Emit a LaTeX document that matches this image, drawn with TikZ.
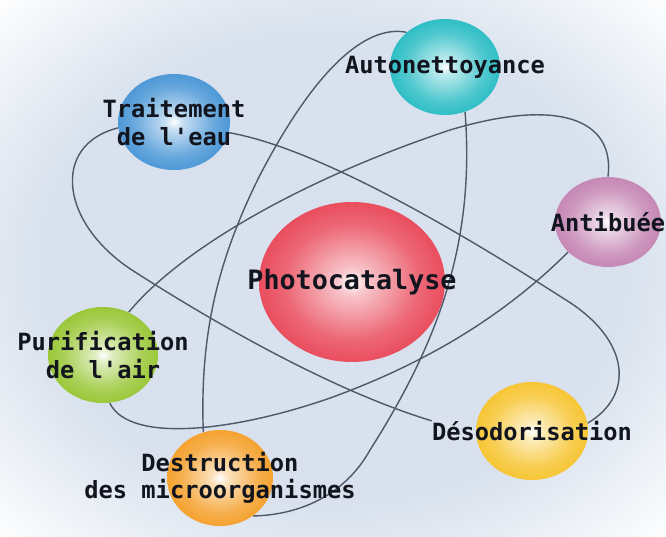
\documentclass[tikz,border=0pt]{standalone}
\usepackage{fontspec}
\setmonofont{DejaVu Sans Mono}
\usetikzlibrary{shapes.geometric}

\definecolor{bgblue}{RGB}{216,225,237}
\definecolor{orbitgray}{RGB}{78,88,104}
\definecolor{inkdark}{RGB}{18,20,30}
\definecolor{redball}{RGB}{232,66,84}
\definecolor{blueball}{RGB}{66,146,212}
\definecolor{tealball}{RGB}{34,186,194}
\definecolor{pinkball}{RGB}{194,128,176}
\definecolor{greenball}{RGB}{148,196,44}
\definecolor{orangeball}{RGB}{244,156,34}
\definecolor{yellowball}{RGB}{246,194,40}
\colorlet{ballc}{red}

\pgfdeclareradialshading[ballc]{glowball}{\pgfpointorigin}{%
	color(0bp)=(white); color(4bp)=(ballc!30!white); color(18bp)=(ballc!80!white);
	color(28bp)=(ballc); color(50bp)=(ballc)}
\pgfdeclareradialshading{bgglow}{\pgfpointorigin}{%
	color(0bp)=(bgblue); color(22bp)=(bgblue); color(36bp)=(white); color(50bp)=(white)}

\pgfdeclarelayer{back}
\pgfsetlayers{back,main}

\tikzset{
	glowcolor/.code={\colorlet{ballc}{#1}},
	ball/.style={ellipse, shading=glowball, inner sep=0pt},
	topic/.style={font=\ttfamily\bfseries\fontsize{13.5}{15.5}\selectfont, text=inkdark, align=center, inner sep=0pt},
	orbit/.style={draw=orbitgray, line width=0.8pt}
}

\begin{document}
\begin{tikzpicture}[x=0.02cm,y=-0.02cm]
	\useasboundingbox (0,0) rectangle (666,537);
	\node[ball, glowcolor=redball, minimum width=3.72cm, minimum height=3.2cm] (photo) at (352,282) {};
	\node[ball, glowcolor=blueball, minimum width=2.24cm, minimum height=1.92cm] (eau) at (174,122) {};
	\node[ball, glowcolor=tealball, minimum width=2.2cm, minimum height=1.92cm] (auto) at (445,67) {};
	\node[ball, glowcolor=pinkball, minimum width=2.12cm, minimum height=1.8cm] (antibuee) at (608,222) {};
	\node[ball, glowcolor=greenball, minimum width=2.2cm, minimum height=1.92cm] (air) at (103,355) {};
	\node[ball, glowcolor=orangeball, minimum width=2.12cm, minimum height=1.92cm] (micro) at (220,478) {};
	\node[ball, glowcolor=yellowball, minimum width=2.24cm, minimum height=1.96cm] (odeur) at (532,431) {};

	\node[topic, font=\ttfamily\bfseries\fontsize{15.2}{17}\selectfont] (phototxt) at (photo) {Photocatalyse};
	\node[topic] (eautxt) at (eau) {Traitement\\de l'eau};
	\node[topic] (autotxt) at (auto) {Autonettoyance};
	\node[topic] (antibueetxt) at (antibuee) {Antibuée};
	\node[topic] (airtxt) at (air) {Purification\\de l'air};
	\node[topic] (microtxt) at (micro) {Destruction\\des microorganismes};
	\node[topic] (odeurtxt) at (odeur) {Désodorisation};

	\begin{pgfonlayer}{back}
		\shade[shading=bgglow] (0,0) rectangle (666,537);
		\draw[orbit] (eau.186) .. controls (50,145) and (60,225) .. (135,272)
			.. controls (210,320) and (330,390) .. (odeurtxt.north west);
		\draw[orbit] (odeur.8) .. controls (635,395) and (630,340) .. (566,300)
			.. controls (500,258) and (330,150) .. (eau.349);
		\draw[orbit] (air.59) .. controls (180,250) and (300,180) .. (450,130)
			.. controls (560,97) and (615,120) .. (antibuee.90);
		\draw[orbit] (antibuee.217) .. controls (500,320) and (420,365) .. (333,397)
			.. controls (240,430) and (130,445) .. (air.278);
		\draw[orbit] (auto.138) .. controls (370,25) and (320,60) .. (260,175)
			.. controls (215,265) and (200,340) .. (micro.110);
		\draw[orbit] (micro.311) .. controls (300,515) and (345,495) .. (370,450)
			.. controls (440,340) and (475,240) .. (auto.294);
	\end{pgfonlayer}
\end{tikzpicture}
\end{document}
